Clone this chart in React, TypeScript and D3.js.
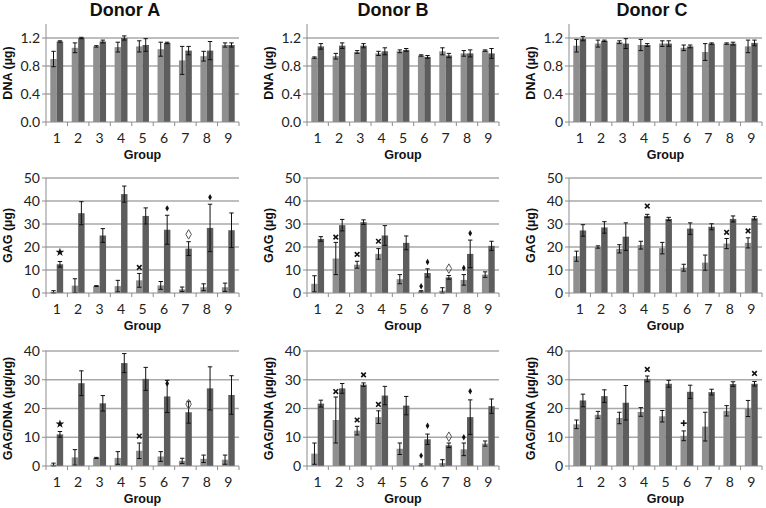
import React from "react";
import * as d3 from "d3";

const groups = ["1", "2", "3", "4", "5", "6", "7", "8", "9"];
const donors = ["Donor A", "Donor B", "Donor C"];
const yTitles = ["DNA (\u00b5g)", "GAG (\u00b5g)", "GAG/DNA (\u00b5g/\u00b5g)"];

// tick values and labels
const dnaTicks = [0, 0.4, 0.8, 1.2];
const dnaTickLabelsAB = ["0.0", "0.4", "0.8", "1.2"];
const dnaTickLabelsC = ["0", "0.4", "0.8", "1.2"];
const gagTicks = [0, 10, 20, 30, 40, 50];
const gagTickLabels = ["0", "10", "20", "30", "40", "50"];
const ratioTicks = [0, 10, 20, 30, 40];
const ratioTickLabels = ["0", "10", "20", "30", "40"];
const rowMax = [1.4, 50, 40];

// ---- DNA (µg) ----
const dnaA_1 = [0.9, 1.06, 1.08, 1.07, 1.08, 1.04, 0.88, 0.94, 1.1];
const dnaA_1e = [0.11, 0.07, 0.01, 0.07, 0.08, 0.1, 0.2, 0.07, 0.03];
const dnaA_2 = [1.15, 1.2, 1.15, 1.2, 1.1, 1.13, 1.02, 1.02, 1.1];
const dnaA_2e = [0.01, 0.01, 0.02, 0.03, 0.09, 0.01, 0.06, 0.13, 0.03];

const dnaB_1 = [0.92, 0.94, 1.0, 0.98, 1.01, 0.95, 1.01, 0.98, 1.02];
const dnaB_1e = [0.01, 0.04, 0.02, 0.03, 0.02, 0.01, 0.05, 0.04, 0.01];
const dnaB_2 = [1.08, 1.09, 1.09, 1.01, 1.03, 0.93, 0.95, 0.98, 0.98];
const dnaB_2e = [0.04, 0.04, 0.03, 0.05, 0.02, 0.02, 0.03, 0.05, 0.07];

const dnaC_1 = [1.09, 1.12, 1.14, 1.1, 1.12, 1.06, 1.0, 1.12, 1.08];
const dnaC_1e = [0.09, 0.05, 0.02, 0.08, 0.04, 0.04, 0.12, 0.01, 0.09];
const dnaC_2 = [1.19, 1.16, 1.12, 1.1, 1.12, 1.08, 1.12, 1.12, 1.13];
const dnaC_2e = [0.03, 0.01, 0.07, 0.02, 0.04, 0.02, 0.01, 0.02, 0.04];

// ---- GAG (µg) ----
const gagA_1 = [0.5, 3.2, 3.0, 3.0, 5.5, 3.3, 1.6, 2.5, 2.5];
const gagA_1e = [0.5, 3.0, 0.2, 2.5, 3.0, 1.7, 1.0, 1.5, 1.8];
const gagA_2 = [12.5, 34.7, 25.0, 43.0, 33.5, 27.5, 19.3, 28.3, 27.3];
const gagA_2e = [1.2, 5.0, 3.0, 3.5, 3.5, 6.3, 3.0, 10.3, 7.5];

const gagB_1 = [4.0, 15.0, 12.3, 17.0, 6.0, 0.7, 1.0, 5.7, 8.0];
const gagB_1e = [3.5, 7.0, 1.5, 2.3, 2.0, 0.3, 1.3, 2.3, 1.2];
const gagB_2 = [23.5, 29.5, 30.8, 25.0, 21.8, 8.7, 6.8, 17.0, 20.5];
const gagB_2e = [1.0, 2.5, 1.0, 4.3, 3.0, 1.8, 0.8, 6.0, 2.0];

const gagC_1 = [16.0, 20.0, 19.2, 20.8, 19.5, 11.0, 13.2, 21.5, 21.8];
const gagC_1e = [2.2, 0.5, 1.8, 1.7, 2.5, 1.5, 3.3, 2.2, 2.2];
const gagC_2 = [27.2, 28.5, 24.5, 33.5, 32.2, 28.0, 28.8, 32.2, 32.5];
const gagC_2e = [2.5, 2.5, 6.0, 0.7, 0.7, 2.5, 1.3, 1.3, 0.7];

// ---- GAG/DNA (µg/µg) ----
const ratioA_1 = [0.5, 3.0, 2.8, 2.8, 5.3, 3.3, 1.8, 2.5, 2.2];
const ratioA_1e = [0.5, 2.7, 0.2, 2.2, 2.7, 1.7, 0.9, 1.3, 1.6];
const ratioA_2 = [11.0, 28.8, 21.8, 35.8, 30.3, 24.2, 18.7, 27.0, 24.7];
const ratioA_2e = [1.0, 4.3, 2.7, 3.3, 4.0, 5.6, 3.8, 7.5, 6.7];

const ratioB_1 = [4.3, 16.0, 12.3, 17.0, 6.0, 0.3, 1.0, 5.8, 7.8];
const ratioB_1e = [3.7, 8.0, 1.5, 2.2, 2.0, 0.4, 1.2, 2.2, 0.9];
const ratioB_2 = [21.7, 27.0, 28.3, 24.5, 21.0, 9.3, 7.2, 17.0, 20.8];
const ratioB_2e = [1.2, 1.7, 0.6, 3.2, 3.2, 1.8, 0.8, 6.0, 2.5];

const ratioC_1 = [14.5, 17.8, 16.7, 18.8, 17.3, 10.5, 13.7, 19.2, 20.0];
const ratioC_1e = [1.5, 1.2, 2.0, 1.5, 2.0, 1.7, 5.0, 1.8, 2.8];
const ratioC_2 = [22.8, 24.3, 22.0, 30.3, 28.6, 25.8, 25.7, 28.5, 28.6];
const ratioC_2e = [2.2, 2.2, 6.0, 1.0, 1.2, 2.3, 1.0, 0.8, 0.8];

// ---- significance markers: group, series (1 light / 2 dark), value, symbol ----
type Mark = { g: number; s: number; v: number; m: string };
const gagA_marks: Mark[] = [
  { g: 1, s: 2, v: 17.7, m: "star" },
  { g: 5, s: 1, v: 11.1, m: "x" },
  { g: 6, s: 2, v: 36.8, m: "dot" },
  { g: 7, s: 2, v: 25.5, m: "diamond" },
  { g: 8, s: 2, v: 41.6, m: "dot" },
];
const gagB_marks: Mark[] = [
  { g: 2, s: 1, v: 24.3, m: "x" },
  { g: 3, s: 1, v: 16.8, m: "x" },
  { g: 4, s: 1, v: 22.5, m: "x" },
  { g: 6, s: 1, v: 2.9, m: "dot" },
  { g: 6, s: 2, v: 13.5, m: "dot" },
  { g: 7, s: 2, v: 10.6, m: "diamond" },
  { g: 8, s: 1, v: 10.9, m: "dot" },
  { g: 8, s: 2, v: 26.0, m: "dot" },
];
const gagC_marks: Mark[] = [
  { g: 4, s: 2, v: 37.8, m: "x" },
  { g: 8, s: 1, v: 26.4, m: "x" },
  { g: 9, s: 1, v: 27.0, m: "x" },
];
const ratioA_marks: Mark[] = [
  { g: 1, s: 2, v: 14.6, m: "star" },
  { g: 5, s: 1, v: 10.4, m: "x" },
  { g: 6, s: 2, v: 28.7, m: "dot" },
  { g: 7, s: 2, v: 21.5, m: "diamond" },
];
const ratioB_marks: Mark[] = [
  { g: 2, s: 1, v: 25.9, m: "x" },
  { g: 3, s: 1, v: 16.0, m: "x" },
  { g: 3, s: 2, v: 31.7, m: "x" },
  { g: 4, s: 1, v: 21.4, m: "x" },
  { g: 6, s: 1, v: 3.6, m: "dot" },
  { g: 6, s: 2, v: 14.0, m: "dot" },
  { g: 7, s: 2, v: 10.2, m: "diamond" },
  { g: 8, s: 1, v: 10.0, m: "dot" },
  { g: 8, s: 2, v: 26.0, m: "dot" },
];
const ratioC_marks: Mark[] = [
  { g: 4, s: 2, v: 33.6, m: "x" },
  { g: 6, s: 1, v: 14.9, m: "plus" },
  { g: 9, s: 2, v: 32.2, m: "x" },
];

// ---- layout ----
const W = 766;
const H = 508;
const colX = [
  [46, 239],
  [307, 499],
  [569, 762],
];
const titleX = [125, 393, 652];
const rowY = [
  [24, 122],
  [178, 293],
  [351, 466],
];
const LIGHT = "#8f8f8f";
const DARK = "#5d5d5d";
const GRID = "#a8a8a8";
const AXIS = "#8c8c8c";
const TICK_FONT = "Lato, 'Liberation Sans', sans-serif";
const BOLD_FONT = "'Liberation Sans', Arial, sans-serif";

type PanelData = {
  s1: number[]; s1e: number[]; s2: number[]; s2e: number[];
  ticks: number[]; labels: string[]; marks: Mark[];
};

const panels: PanelData[][] = [
  [
    { s1: dnaA_1, s1e: dnaA_1e, s2: dnaA_2, s2e: dnaA_2e, ticks: dnaTicks, labels: dnaTickLabelsAB, marks: [] },
    { s1: dnaB_1, s1e: dnaB_1e, s2: dnaB_2, s2e: dnaB_2e, ticks: dnaTicks, labels: dnaTickLabelsAB, marks: [] },
    { s1: dnaC_1, s1e: dnaC_1e, s2: dnaC_2, s2e: dnaC_2e, ticks: dnaTicks, labels: dnaTickLabelsC, marks: [] },
  ],
  [
    { s1: gagA_1, s1e: gagA_1e, s2: gagA_2, s2e: gagA_2e, ticks: gagTicks, labels: gagTickLabels, marks: gagA_marks },
    { s1: gagB_1, s1e: gagB_1e, s2: gagB_2, s2e: gagB_2e, ticks: gagTicks, labels: gagTickLabels, marks: gagB_marks },
    { s1: gagC_1, s1e: gagC_1e, s2: gagC_2, s2e: gagC_2e, ticks: gagTicks, labels: gagTickLabels, marks: gagC_marks },
  ],
  [
    { s1: ratioA_1, s1e: ratioA_1e, s2: ratioA_2, s2e: ratioA_2e, ticks: ratioTicks, labels: ratioTickLabels, marks: ratioA_marks },
    { s1: ratioB_1, s1e: ratioB_1e, s2: ratioB_2, s2e: ratioB_2e, ticks: ratioTicks, labels: ratioTickLabels, marks: ratioB_marks },
    { s1: ratioC_1, s1e: ratioC_1e, s2: ratioC_2, s2e: ratioC_2e, ticks: ratioTicks, labels: ratioTickLabels, marks: ratioC_marks },
  ],
];

function Marker({ x, y, m }: { x: number; y: number; m: string }) {
  if (m === "x") {
    const r = 2.3;
    return (
      <g stroke="#111" strokeWidth={1.6}>
        <line x1={x - r} y1={y - r} x2={x + r} y2={y + r} />
        <line x1={x - r} y1={y + r} x2={x + r} y2={y - r} />
      </g>
    );
  }
  if (m === "plus") {
    const r = 3;
    return (
      <g stroke="#111" strokeWidth={1.6}>
        <line x1={x - r} y1={y} x2={x + r} y2={y} />
        <line x1={x} y1={y - r} x2={x} y2={y + r} />
      </g>
    );
  }
  if (m === "dot") {
    const p = d3.symbol().type(d3.symbolDiamond).size(12)() as string;
    return <path d={p} transform={`translate(${x},${y})`} fill="#111" />;
  }
  if (m === "diamond") {
    const p = d3.symbol().type(d3.symbolDiamond).size(26)() as string;
    return <path d={p} transform={`translate(${x},${y})`} fill="none" stroke="#555" strokeWidth={1} />;
  }
  const p = d3.symbol().type(d3.symbolStar).size(24)() as string;
  return <path d={p} transform={`translate(${x},${y})`} fill="#111" />;
}

function Panel({ r, c, d }: { r: number; c: number; d: PanelData }) {
  const [x0, x1] = colX[c];
  const [y0, y1] = rowY[r];
  const x = d3.scaleBand<string>().domain(groups).range([x0, x1]);
  const y = d3.scaleLinear().domain([0, rowMax[r]]).range([y1, y0]);
  const bw = x.bandwidth() * 0.3;
  const series = [
    { v: d.s1, e: d.s1e, fill: LIGHT, off: -bw },
    { v: d.s2, e: d.s2e, fill: DARK, off: 0 },
  ];
  const boundaries = d3.range(groups.length + 1).map((i) => x0 + i * x.step());
  return (
    <g>
      {d.ticks.filter((t) => t > 0).map((t) => (
        <line key={"g" + t} x1={x0} x2={x1} y1={y(t)} y2={y(t)} stroke={GRID} strokeWidth={1.3} />
      ))}
      {series.map((s, si) =>
        groups.map((g, i) => {
          const cx = (x(g) as number) + x.bandwidth() / 2;
          return (
            <rect key={`b${si}-${i}`} x={cx + s.off} y={y(s.v[i])} width={bw} height={y1 - y(s.v[i])} fill={s.fill} />
          );
        })
      )}
      {series.map((s, si) =>
        groups.map((g, i) => {
          const cx = (x(g) as number) + x.bandwidth() / 2 + s.off + bw / 2;
          const hi = y(s.v[i] + s.e[i]);
          const lo = y(Math.max(0, s.v[i] - s.e[i]));
          return (
            <g key={`e${si}-${i}`} stroke="#111" strokeWidth={1}>
              <line x1={cx} x2={cx} y1={hi} y2={lo} />
              <line x1={cx - 2.2} x2={cx + 2.2} y1={hi} y2={hi} />
              <line x1={cx - 2.2} x2={cx + 2.2} y1={lo} y2={lo} />
            </g>
          );
        })
      )}
      {d.marks.map((mk, i) => {
        const cx = (x(groups[mk.g - 1]) as number) + x.bandwidth() / 2 + (mk.s === 1 ? -bw / 2 : bw / 2);
        return <Marker key={"m" + i} x={cx} y={y(mk.v)} m={mk.m} />;
      })}
      {/* axes */}
      <line x1={x0} x2={x0} y1={y0} y2={y1} stroke={AXIS} strokeWidth={1} />
      <line x1={x0} x2={x1} y1={y1} y2={y1} stroke={AXIS} strokeWidth={1} />
      {d.ticks.map((t) => (
        <line key={"yt" + t} x1={x0 - 4} x2={x0} y1={y(t)} y2={y(t)} stroke={AXIS} />
      ))}
      {boundaries.map((bx, i) => (
        <line key={"xt" + i} x1={bx} x2={bx} y1={y1} y2={y1 + 4} stroke={AXIS} />
      ))}
      {d.ticks.map((t, i) => (
        <text key={"yl" + t} x={x0 - 6} y={y(t)} dy="0.35em" textAnchor="end" fontFamily={TICK_FONT} fontSize={14} fill="#222">
          {d.labels[i]}
        </text>
      ))}
      {groups.map((g) => (
        <text key={"xl" + g} x={(x(g) as number) + x.bandwidth() / 2} y={y1 + 21} textAnchor="middle" fontFamily={TICK_FONT} fontSize={14} fill="#222">
          {g}
        </text>
      ))}
      <text x={(x0 + x1) / 2} y={y1 + 37} textAnchor="middle" fontFamily={BOLD_FONT} fontWeight="bold" fontSize={12.5} fill="#111">
        Group
      </text>
      <text
        transform={`translate(${x0 - 38},${(y0 + y1) / 2}) rotate(-90)`}
        textAnchor="middle"
        dy="0.35em"
        fontFamily={BOLD_FONT}
        fontWeight="bold"
        fontSize={12.5}
        fill="#111"
      >
        {yTitles[r]}
      </text>
    </g>
  );
}

export default function App() {
  return (
    <svg width={W} height={H} style={{ position: "absolute", left: 0, top: 0, background: "#fff" }}>
      <rect width={W} height={H} fill="#fff" />
      {donors.map((dn, c) => (
        <text key={dn} x={titleX[c]} y={16} textAnchor="middle" fontFamily={BOLD_FONT} fontWeight="bold" fontSize={18} fill="#111">
          {dn}
        </text>
      ))}
      {panels.map((row, r) => row.map((d, c) => <Panel key={`${r}-${c}`} r={r} c={c} d={d} />))}
    </svg>
  );
}
